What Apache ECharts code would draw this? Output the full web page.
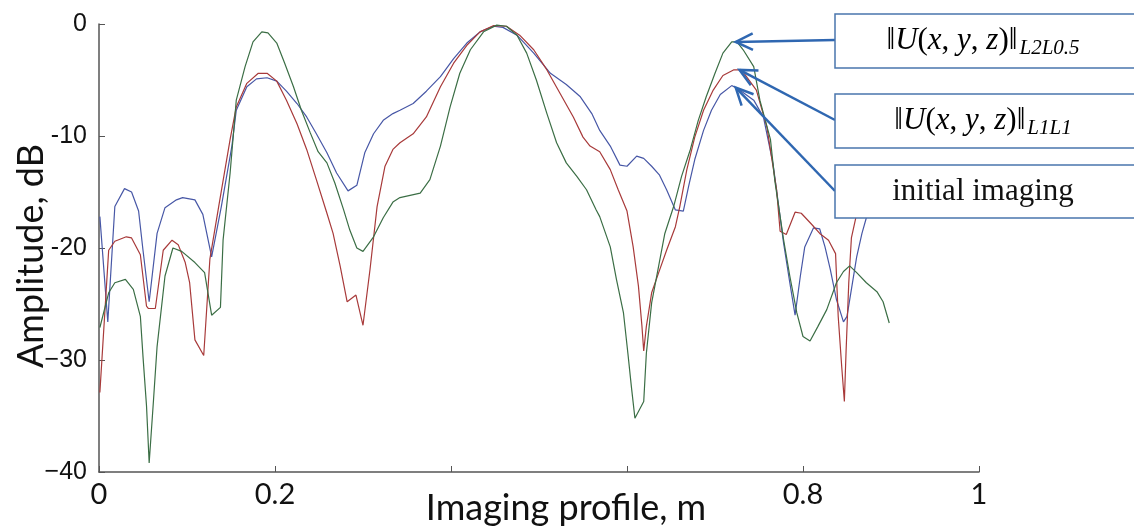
<!DOCTYPE html>
<html>
<head>
<meta charset="utf-8">
<script src="https://cdn.jsdelivr.net/npm/echarts@6/dist/echarts.min.js"></script>
<style>
html,body{margin:0;padding:0;background:#fff;}
#chart{width:1134px;height:527px;}
</style>
</head>
<body>
<div id="chart"></div>
<script>
// ---- data (x in m, amplitude in dB) ----
var initX = [0.001,0.010,0.018,0.029,0.037,0.045,0.050,0.057,0.066,0.075,0.088,0.095,0.109,0.118,0.128,0.139,0.151,0.156,0.168,0.179,0.191,0.202,0.213,0.225,0.236,0.247,0.259,0.270,0.283,0.293,0.302,0.312,0.323,0.334,0.342,0.357,0.372,0.388,0.403,0.418,0.433,0.448,0.459,0.475,0.494,0.513,0.531,0.547,0.560,0.569,0.581,0.592,0.600,0.611,0.619,0.628,0.637,0.645,0.655,0.664,0.670,0.677,0.687,0.696,0.706,0.719,0.728,0.744,0.755,0.766,0.778,0.785,0.791,0.797,0.802,0.812,0.819,0.825,0.831,0.838,0.846,0.850,0.855,0.861,0.867,0.872,0.880];
var initY = [-17.2,-26.6,-16.3,-14.7,-15.0,-16.7,-20.2,-24.8,-18.7,-16.4,-15.7,-15.5,-15.7,-17.0,-20.8,-16.3,-10.9,-7.7,-5.6,-4.9,-4.8,-5.1,-6.0,-7.1,-8.3,-9.8,-11.5,-13.3,-14.9,-14.4,-11.5,-9.8,-8.6,-8.0,-7.7,-7.1,-6.0,-4.7,-3.1,-1.7,-0.7,-0.2,-0.3,-1.0,-2.6,-4.4,-5.4,-6.5,-8.0,-9.5,-10.9,-12.6,-12.7,-11.8,-12.0,-12.7,-13.5,-14.8,-16.6,-16.7,-14.5,-12.1,-9.5,-7.7,-6.3,-5.5,-5.9,-6.8,-8.3,-12.5,-19.6,-23.1,-26.0,-22.5,-19.9,-18.2,-18.3,-19.9,-21.9,-24.6,-26.6,-26.1,-23.7,-20.8,-18.7,-17.3,-15.0];

var l1X = [0.001,0.011,0.018,0.031,0.037,0.047,0.054,0.056,0.064,0.073,0.083,0.090,0.098,0.103,0.109,0.119,0.126,0.136,0.149,0.156,0.168,0.181,0.191,0.202,0.213,0.225,0.236,0.247,0.259,0.266,0.274,0.282,0.292,0.300,0.308,0.316,0.325,0.334,0.342,0.357,0.372,0.388,0.403,0.418,0.433,0.448,0.463,0.478,0.494,0.509,0.524,0.539,0.550,0.558,0.569,0.581,0.590,0.600,0.607,0.613,0.617,0.619,0.622,0.628,0.636,0.645,0.655,0.660,0.668,0.677,0.687,0.698,0.709,0.721,0.728,0.732,0.747,0.759,0.770,0.774,0.781,0.791,0.798,0.810,0.819,0.829,0.837,0.840,0.844,0.847,0.849,0.852,0.855,0.860,0.870];
var l1Y = [-32.9,-20.2,-19.4,-19.0,-19.1,-20.6,-25.2,-25.4,-25.4,-20.2,-19.3,-19.7,-21.3,-23.1,-28.2,-29.6,-21.0,-16.3,-10.3,-7.4,-5.3,-4.4,-4.4,-5.1,-6.8,-8.9,-11.2,-13.9,-16.9,-18.7,-21.6,-24.8,-24.2,-26.9,-21.9,-16.3,-12.7,-11.2,-10.6,-9.8,-8.3,-5.6,-3.5,-1.9,-0.7,-0.15,-0.2,-1.0,-2.3,-4.1,-6.2,-8.3,-10.1,-10.9,-11.4,-13.0,-14.8,-16.7,-19.9,-23.4,-27.0,-29.2,-27.0,-24.0,-22.2,-20.2,-18.1,-16.3,-13.0,-10.1,-7.7,-5.9,-4.6,-4.1,-4.1,-4.3,-5.9,-9.2,-14.8,-18.5,-18.8,-16.8,-16.9,-17.9,-18.7,-19.3,-20.5,-26.1,-30.6,-33.7,-29.1,-23.1,-19.1,-17.3,-15.0];

var l2X = [0.001,0.011,0.018,0.030,0.039,0.047,0.050,0.054,0.057,0.062,0.066,0.075,0.084,0.094,0.109,0.120,0.128,0.138,0.141,0.149,0.156,0.166,0.175,0.185,0.192,0.202,0.211,0.221,0.230,0.240,0.249,0.259,0.268,0.278,0.285,0.293,0.300,0.312,0.323,0.334,0.342,0.365,0.376,0.388,0.399,0.410,0.422,0.437,0.452,0.463,0.475,0.486,0.497,0.509,0.520,0.531,0.543,0.554,0.565,0.569,0.581,0.588,0.596,0.601,0.605,0.609,0.619,0.622,0.628,0.636,0.643,0.653,0.662,0.672,0.681,0.690,0.700,0.709,0.719,0.725,0.732,0.744,0.751,0.763,0.768,0.778,0.785,0.793,0.800,0.808,0.817,0.827,0.838,0.846,0.853,0.861,0.872,0.884,0.891,0.898];
var l2Y = [-27.1,-24.0,-23.1,-22.8,-23.7,-26.1,-29.7,-34.1,-39.2,-33.5,-28.8,-22.5,-20.0,-20.3,-21.3,-22.2,-26.0,-25.3,-19.3,-13.3,-6.8,-3.8,-1.6,-0.7,-0.8,-1.7,-3.5,-5.6,-7.7,-9.7,-11.4,-12.4,-14.2,-16.6,-18.4,-20.0,-20.3,-19.0,-17.3,-15.9,-15.5,-15.1,-13.9,-10.9,-7.4,-4.4,-2.3,-0.7,-0.1,-0.2,-1.0,-2.6,-5.0,-8.0,-10.6,-12.4,-13.6,-14.8,-16.6,-17.2,-19.9,-22.8,-25.8,-29.4,-32.4,-35.2,-33.7,-29.4,-24.9,-21.6,-18.7,-16.3,-13.6,-11.2,-8.6,-6.5,-4.4,-2.6,-1.6,-1.6,-2.3,-3.8,-6.8,-10.3,-14.0,-19.3,-22.5,-25.8,-27.9,-28.3,-27.0,-25.5,-23.1,-22.1,-21.6,-22.2,-23.1,-23.9,-24.8,-26.7];

var xTickLabels = {'0':'0','0.2':'0.2','0.8':'0.8','1':'1'};
var yTickLabels = {'0':'0','-10':'-10','-20':'-20','-30':'\u221230','-40':'\u221240'};
var seriesNames = ['initial imaging','L1L1','L2L0.5'];

function zip(xs, ys){ var out=[]; for(var i=0;i<xs.length;i++) out.push([xs[i], ys[i]]); return out; }

var chart = echarts.init(document.getElementById('chart'), null, {renderer:'canvas'});
var axisColor = '#555555';
chart.setOption({
  animation:false,
  backgroundColor:'#ffffff',
  grid:{left:99, right:155, top:24, bottom:55, containLabel:false, outerBoundsMode:'none'},
  xAxis:{
    type:'value', min:0, max:1, interval:0.2,
    name:'Imaging profile, m', nameLocation:'middle', nameGap:18, nameMoveOverlap:false,
    nameTextStyle:{fontFamily:'Lato', fontSize:36, color:'#111', verticalAlign:'top', padding:[0,0,0,54]},
    axisLine:{onZero:false, lineStyle:{color:axisColor, width:1.5}},
    axisTick:{inside:true, length:6, lineStyle:{color:axisColor}},
    axisLabel:{margin:8, fontFamily:'Lato', fontSize:29, color:'#111',
      formatter:function(v){ var k=String(Math.round(v*10)/10); return xTickLabels[k]!==undefined?xTickLabels[k]:''; }},
    splitLine:{show:false}
  },
  yAxis:{
    type:'value', min:-40, max:0, interval:10,
    name:'Amplitude, dB', nameLocation:'middle', nameGap:50, nameMoveOverlap:false,
    nameTextStyle:{fontFamily:'Lato', fontSize:36, color:'#111', padding:[0,16,0,0]},
    axisLine:{show:true, onZero:false, lineStyle:{color:axisColor, width:1.5}},
    axisTick:{show:true, inside:true, length:6, lineStyle:{color:axisColor}},
    axisLabel:{margin:12, fontFamily:'Liberation Sans', fontSize:25, color:'#111',
      formatter:function(v){ return yTickLabels[String(v)]||String(v); }},
    splitLine:{show:false}
  },
  series:[
    {name:seriesNames[0], type:'line', data:zip(initX, initY), showSymbol:false, symbol:'none', lineStyle:{color:'#4757a6', width:1.2}, z:2},
    {name:seriesNames[1], type:'line', data:zip(l1X, l1Y), showSymbol:false, symbol:'none', lineStyle:{color:'#a83a3a', width:1.2}, z:3},
    {name:seriesNames[2], type:'line', data:zip(l2X, l2Y), showSymbol:false, symbol:'none', lineStyle:{color:'#3b6e45', width:1.2}, z:4}
  ]
});

// ---- annotations: callout boxes with arrows pointing at the right-hand peaks ----
function peakNear(xs, ys, lo, hi){
  var best=null;
  for(var i=0;i<xs.length;i++){ if(xs[i]>=lo && xs[i]<=hi && (best===null || ys[i]>ys[best])) best=i; }
  return chart.convertToPixel({xAxisIndex:0, yAxisIndex:0}, [xs[best], ys[best]]);
}
var pG = peakNear(l2X, l2Y, 0.65, 0.8);
var pR = peakNear(l1X, l1Y, 0.65, 0.8);
var pB = peakNear(initX, initY, 0.65, 0.8);

var arrowColor = '#2f67b1';
var boxColor = '#4a76ad';
function arrow(from, tip){
  var dx = from[0]-tip[0], dy = from[1]-tip[1];
  var L = Math.sqrt(dx*dx+dy*dy); var ux=dx/L, uy=dy/L;
  var wing=19, ang=0.45;
  var c=Math.cos(ang), s=Math.sin(ang);
  var w1=[tip[0]+wing*(ux*c-uy*s), tip[1]+wing*(ux*s+uy*c)];
  var w2=[tip[0]+wing*(ux*c+uy*s), tip[1]+wing*(-ux*s+uy*c)];
  return [
    {type:'polyline', z:50, shape:{points:[from, tip]}, style:{stroke:arrowColor, lineWidth:2.5, fill:null}},
    {type:'polyline', z:50, shape:{points:[w1, tip, w2]}, style:{stroke:arrowColor, lineWidth:2.5, fill:null}}
  ];
}
var serif = "'Liberation Serif', 'DejaVu Serif', serif";
var richMath = {
  n:{fontFamily:serif, fontSize:31, color:'#111'},
  i:{fontFamily:serif, fontSize:31, fontStyle:'italic', color:'#111'},
  s:{fontFamily:serif, fontSize:21, fontStyle:'italic', color:'#111', padding:[14,0,0,2]}
};
function box(y, h, textSpec){
  var els = [{type:'rect', z:60, shape:{x:835, y:y, width:300, height:h}, style:{fill:'#ffffff', stroke:boxColor, lineWidth:1.5}}];
  els.push({type:'text', z:61, x:983, y:y+h/2, style:Object.assign({align:'center', verticalAlign:'middle'}, textSpec)});
  return els;
}
var boxes = [
  {y:14, h:54, sub:'L2L0.5'},
  {y:94, h:54, sub:'L1L1'}
];
var g = [];
g = g.concat(arrow([835,40], [pG[0]+4, pG[1]]));
g = g.concat(arrow([835,120], [pR[0]+6, pR[1]]));
g = g.concat(arrow([835,191], [pB[0]+4, pB[1]+2]));
boxes.forEach(function(b){
  g = g.concat(box(b.y, b.h, {text:'{n|\u2016}{i|U}{n|(}{i|x}{n|, }{i|y}{n|, }{i|z}{n|)\u2016}{s|'+b.sub+'}', rich:richMath}));
});
g = g.concat(box(165, 53, {text:seriesNames[0], fontFamily:serif, fontSize:31, fill:'#111'}));
chart.setOption({graphic:{elements:g}});
</script>
</body>
</html>
